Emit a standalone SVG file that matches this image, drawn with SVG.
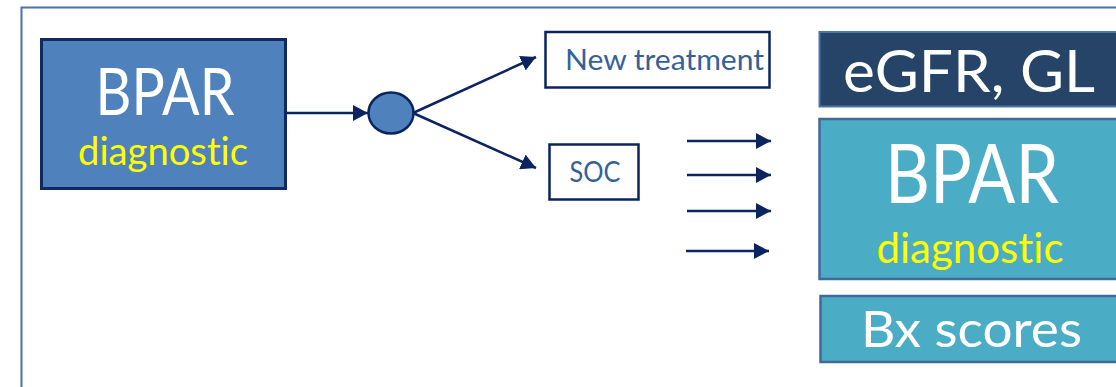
<svg xmlns="http://www.w3.org/2000/svg" width="1116" height="387" viewBox="0 0 1116 387">
<style>
  .t { font-family: Lato, "Open Sans", "Liberation Sans", sans-serif; font-variant-ligatures: none; font-feature-settings: "liga" 0, "clig" 0; }
  .w { fill: #ffffff; }
  .y { fill: #ffff00; }
  .b { fill: #34619a; }
  .conn { stroke: #0b2460; stroke-width: 2.5; fill: none; }
</style>
<defs>
  <marker id="ah" markerUnits="userSpaceOnUse" markerWidth="16" markerHeight="16" refX="15" refY="8" orient="auto" viewBox="0 0 16 16">
    <path d="M0,0 L15,8 L0,16 Z" fill="#0b2460"/>
  </marker>
</defs>
<rect x="21.5" y="7.5" width="1120" height="400" fill="#ffffff" stroke="#4d72a4" stroke-width="2"/>

<g id="left-bpar">
  <rect x="41.5" y="39.5" width="244" height="149" fill="#4f81bd" stroke="#10295e" stroke-width="3"/>
  <text class="t w" x="165" y="115" font-size="66" text-anchor="middle" textLength="139" lengthAdjust="spacingAndGlyphs">BPAR</text>
  <text class="t y" x="163" y="165" font-size="38" text-anchor="middle" textLength="170" lengthAdjust="spacingAndGlyphs">diagnostic</text>
</g>

<g id="decision">
  <ellipse cx="391" cy="113" rx="22.5" ry="20.5" fill="#4f81bd" stroke="#0b2460" stroke-width="2.5"/>
</g>

<g id="new-treatment">
  <rect x="545.5" y="32" width="224" height="55.5" fill="#ffffff" stroke="#0b2460" stroke-width="2.5"/>
  <text class="t b" x="565" y="70" font-size="28" textLength="199" lengthAdjust="spacingAndGlyphs">New treatment</text>
</g>

<g id="soc">
  <rect x="549.5" y="144.5" width="89" height="55" fill="#ffffff" stroke="#0b2460" stroke-width="2.5"/>
  <text class="t b" x="595" y="182" font-size="28" text-anchor="middle" textLength="51" lengthAdjust="spacingAndGlyphs">SOC</text>
</g>

<g id="egfr">
  <rect x="819.5" y="32" width="320" height="74.5" fill="#264467" stroke="#4a74a8" stroke-width="2"/>
  <text class="t w" x="843" y="92" font-size="59" textLength="252" lengthAdjust="spacingAndGlyphs">eGFR, GL</text>
</g>

<g id="right-bpar">
  <rect x="819.5" y="119" width="320" height="160" fill="#4bacc6" stroke="#41699a" stroke-width="2.5"/>
  <text class="t w" x="972" y="203" font-size="81" text-anchor="middle" textLength="174" lengthAdjust="spacingAndGlyphs">BPAR</text>
  <text class="t y" x="970" y="263" font-size="42" text-anchor="middle" textLength="187" lengthAdjust="spacingAndGlyphs">diagnostic</text>
</g>

<g id="bx-scores">
  <rect x="820.5" y="296" width="320" height="66" fill="#4bacc6" stroke="#41699a" stroke-width="2.5"/>
  <text class="t w" x="861" y="347" font-size="50" textLength="221" lengthAdjust="spacingAndGlyphs">Bx scores</text>
</g>

<g id="connectors">
  <line class="conn" x1="286" y1="113" x2="368" y2="113" marker-end="url(#ah)"/>
  <line class="conn" x1="413" y1="113" x2="536" y2="57" marker-end="url(#ah)"/>
  <line class="conn" x1="413" y1="113" x2="536" y2="168" marker-end="url(#ah)"/>
  <line class="conn" x1="687" y1="141" x2="771" y2="141" marker-end="url(#ah)"/>
  <line class="conn" x1="687" y1="175" x2="771" y2="175" marker-end="url(#ah)"/>
  <line class="conn" x1="687" y1="211" x2="771" y2="211" marker-end="url(#ah)"/>
  <line class="conn" x1="686" y1="251" x2="769" y2="251" marker-end="url(#ah)"/>
</g>
</svg>
